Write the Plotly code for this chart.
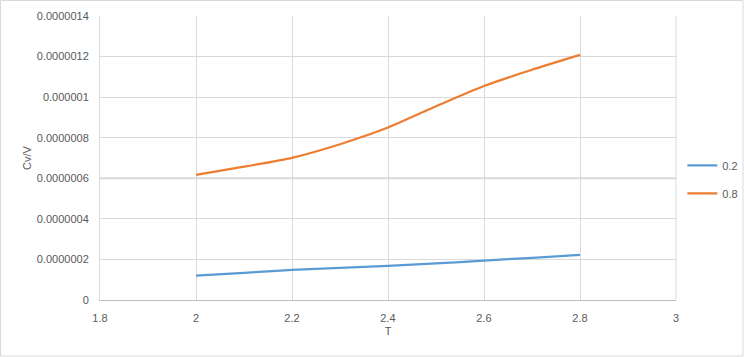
import plotly.graph_objects as go

T = [2.0, 2.1, 2.2, 2.3, 2.4, 2.5, 2.6, 2.7, 2.8]
cv_02 = [0.120e-6, 0.134e-6, 0.148e-6, 0.158e-6, 0.168e-6, 0.180e-6, 0.194e-6, 0.208e-6, 0.222e-6]
cv_08 = [0.617e-6, 0.657e-6, 0.701e-6, 0.768e-6, 0.850e-6, 0.955e-6, 1.055e-6, 1.135e-6, 1.208e-6]
series_names = ["0.2", "0.8"]
colors = ["#5b9bd5", "#ed7d31"]
y_ticks = [0, 0.2e-6, 0.4e-6, 0.6e-6, 0.8e-6, 1.0e-6, 1.2e-6, 1.4e-6]
y_labels = ["0", "0.0000002", "0.0000004", "0.0000006", "0.0000008", "0.000001", "0.0000012", "0.0000014"]

font = "Liberation Sans, Arial, sans-serif"
tick_color = "#595959"
grid = "#d9d9d9"
fs = 11

fig = go.Figure()
for name, ys, c in zip(series_names, [cv_02, cv_08], colors):
    fig.add_trace(go.Scatter(x=T, y=ys, mode="lines", name=name, legendgroup=name,
                             line=dict(color=c, width=2.25, shape="spline", smoothing=0.5)))

fig.update_layout(
    width=744, height=357,
    margin=dict(l=100, r=68, t=16, b=57, autoexpand=False),
    paper_bgcolor="white", plot_bgcolor="white",
    font=dict(family=font, size=fs, color=tick_color),
    showlegend=True,
    legend=dict(x=1.011, y=0.425, xanchor="left", yanchor="middle",
                traceorder="grouped", tracegroupgap=9,
                font=dict(family=font, size=fs, color=tick_color),
                itemwidth=30, bgcolor="rgba(0,0,0,0)"),
    xaxis=dict(range=[1.8, 3.0], tick0=1.8, dtick=0.2, showgrid=True, gridcolor=grid,
               gridwidth=1, zeroline=False, showline=True, linecolor="#bfbfbf", linewidth=1,
               ticks="", ticklabelstandoff=8, tickfont=dict(size=fs, color=tick_color),
               title=dict(text="T", font=dict(size=fs, color=tick_color), standoff=4)),
    yaxis=dict(range=[0, 1.4e-6], tickmode="array", tickvals=y_ticks, ticktext=y_labels,
               showgrid=True, gridcolor=grid,
               gridwidth=1, zeroline=False, showline=True, linecolor=grid,
               ticks="", ticklabelstandoff=8,
               tickfont=dict(size=fs, color=tick_color),
               title=dict(text="Cv/V", font=dict(size=fs, color=tick_color), standoff=2)),
    shapes=[dict(type="line", xref="paper", yref="paper", x0=1.0, x1=1.0, y0=0, y1=1,
                 line=dict(color=grid, width=1)),
            dict(type="line", xref="paper", yref="y", x0=0, x1=1, y0=y_ticks[3], y1=y_ticks[3],
                 line=dict(color=grid, width=2), layer="below"),
            dict(type="rect", xref="paper", yref="paper", x0=-99.5/576, x1=(576+67)/576,
                 y0=-56/284, y1=(284+15.5)/284, line=dict(color="#d9d9d9", width=1),
                 layer="below")],
)

fig.write_html("out.html")
